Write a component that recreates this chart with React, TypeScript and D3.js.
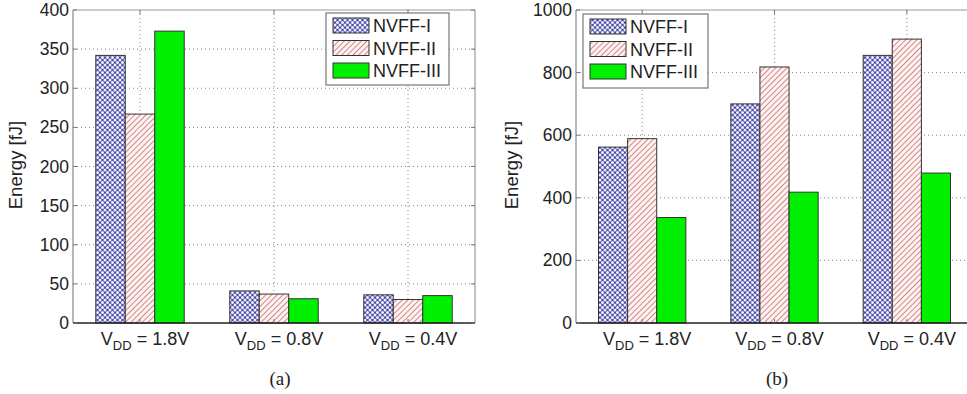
import * as d3 from "d3";
import React from "react";

const categories = ["1.8V", "0.8V", "0.4V"];
const seriesNames = ["NVFF-I", "NVFF-II", "NVFF-III"];

// panel (a)
const energyA_I = [342, 41, 36];
const energyA_II = [267, 37, 30];
const energyA_III = [373, 31, 35];
const ticksA = [0, 50, 100, 150, 200, 250, 300, 350, 400];

// panel (b)
const energyB_I = [562, 700, 855];
const energyB_II = [589, 818, 907];
const energyB_III = [337, 418, 479];
const ticksB = [0, 200, 400, 600, 800, 1000];

const FONT = "'Liberation Sans', Arial, Helvetica, sans-serif";
const fills = ["url(#patI)", "url(#patII)", "#00f000"];

interface PanelProps {
  values: number[][];
  ticks: number[];
  left: number;
  right: number;
  showRight: boolean;
  legend: { x: number; y: number; w: number; h: number };
  yLabelX: number;
  caption: string;
  captionX: number;
}

const Panel = ({ values, ticks, left, right, showRight, legend, yLabelX, caption, captionX }: PanelProps) => {
  const top = 10;
  const bottom = 323;
  const y = d3.scaleLinear().domain([0, ticks[ticks.length - 1]]).range([bottom, top]);
  const x = d3.scaleLinear().domain([0.5, 3.5]).range([left, right]);
  const inner = d3.scaleBand<string>().domain(seriesNames).range([-0.33, 0.33]);
  const bw = x(inner.bandwidth()) - x(0);

  return (
    <g>
      {/* grid */}
      {ticks.slice(1, -1).map((t) => (
        <line key={"h" + t} x1={left} x2={right} y1={y(t)} y2={y(t)} stroke="#666" strokeWidth={0.8} strokeDasharray="1,3" />
      ))}
      {categories.map((c, i) => (
        <line key={"v" + c} x1={x(i + 1)} x2={x(i + 1)} y1={top} y2={bottom} stroke="#666" strokeWidth={0.8} strokeDasharray="1,3" />
      ))}

      {/* bars */}
      {seriesNames.map((s, si) =>
        values[si].map((v, ci) => (
          <rect
            key={s + ci}
            x={x(ci + 1 + (inner(s) ?? 0))}
            y={y(v)}
            width={bw}
            height={y(0) - y(v)}
            fill={fills[si]}
            stroke="#333"
            strokeWidth={1}
          />
        ))
      )}

      {/* axes box */}
      <line x1={left} x2={right} y1={top} y2={top} stroke="#999" strokeWidth={1.2} />
      <line x1={left} x2={left} y1={top} y2={bottom} stroke="#888" strokeWidth={1.2} />
      {showRight && <line x1={right} x2={right} y1={top} y2={bottom} stroke="#999" strokeWidth={1.2} />}
      <line x1={left} x2={right} y1={bottom} y2={bottom} stroke="#222" strokeWidth={1.5} />

      {/* ticks */}
      {ticks.map((t) => (
        <g key={"t" + t}>
          <line x1={left} x2={left + 4} y1={y(t)} y2={y(t)} stroke="#777" />
          {showRight && <line x1={right - 4} x2={right} y1={y(t)} y2={y(t)} stroke="#777" />}
          <text x={left - 4} y={y(t) + 6} textAnchor="end" fontSize={17.5} fontFamily={FONT} fill="#222">
            {t}
          </text>
        </g>
      ))}
      {categories.map((c, i) => (
        <g key={"xt" + c}>
          <line x1={x(i + 1)} x2={x(i + 1)} y1={top} y2={top + 4} stroke="#777" />
          <line x1={x(i + 1)} x2={x(i + 1)} y1={bottom - 4} y2={bottom} stroke="#777" />
          <text x={x(i + 1) + 5} y={345} textAnchor="middle" fontSize={18} fontFamily={FONT} fill="#222">
            V
            <tspan fontSize={13} dy={5}>DD</tspan>
            <tspan dy={-5}>{" = " + c}</tspan>
          </text>
        </g>
      ))}

      {/* y label */}
      <text
        transform={`translate(${yLabelX},165) rotate(-90)`}
        textAnchor="middle"
        fontSize={18.5}
        fontFamily={FONT}
        fill="#222"
      >
        Energy [fJ]
      </text>

      {/* legend */}
      <rect x={legend.x} y={legend.y} width={legend.w} height={legend.h} fill="#fff" stroke="#777" strokeWidth={1.2} />
      {seriesNames.map((s, si) => (
        <g key={"lg" + s}>
          <rect x={legend.x + 7} y={legend.y + 5 + si * 22.5} width={36} height={15} fill={fills[si]} stroke="#333" />
          <text x={legend.x + 47} y={legend.y + 19 + si * 22.5} fontSize={18} fontFamily={FONT} fill="#222">
            {s}
          </text>
        </g>
      ))}

      {/* caption */}
      <text x={captionX} y={385} textAnchor="middle" fontSize={19} fontFamily="'Liberation Serif', 'DejaVu Serif', serif" fill="#222">
        {caption}
      </text>
    </g>
  );
};

export default function App() {
  return (
    <svg width={967} height={394} style={{ position: "absolute", left: 0, top: 0, background: "#fff" }}>
      <defs>
        <pattern id="patI" width={5} height={5} patternUnits="userSpaceOnUse">
          <rect width={5} height={5} fill="#4a4aa6" />
          <circle cx={0} cy={0} r={1.5} fill="#f0f0fc" />
          <circle cx={5} cy={0} r={1.5} fill="#f0f0fc" />
          <circle cx={0} cy={5} r={1.5} fill="#f0f0fc" />
          <circle cx={5} cy={5} r={1.5} fill="#f0f0fc" />
          <circle cx={2.5} cy={2.5} r={1.5} fill="#f0f0fc" />
        </pattern>
        <pattern id="patII" width={4} height={4} patternUnits="userSpaceOnUse" patternTransform="rotate(45)">
          <rect width={4} height={4} fill="#fdf3f3" />
          <line x1={0.5} x2={0.5} y1={0} y2={4} stroke="#d07a7a" strokeWidth={0.9} />
        </pattern>
      </defs>
      <Panel
        values={[energyA_I, energyA_II, energyA_III]}
        ticks={ticksA}
        left={73}
        right={475}
        showRight={true}
        legend={{ x: 326, y: 13, w: 123, h: 72 }}
        yLabelX={22}
        caption="(a)"
        captionX={280}
      />
      <Panel
        values={[energyB_I, energyB_II, energyB_III]}
        ticks={ticksB}
        left={576}
        right={973}
        showRight={false}
        legend={{ x: 583, y: 14, w: 125, h: 74 }}
        yLabelX={518}
        caption="(b)"
        captionX={777}
      />
    </svg>
  );
}
